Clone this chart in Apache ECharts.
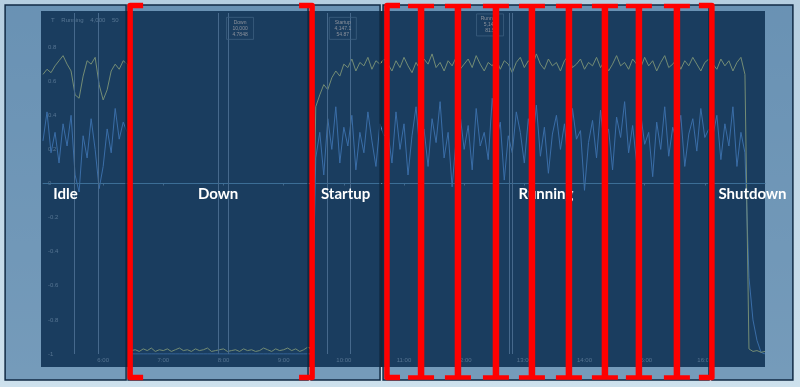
<!DOCTYPE html>
<html><head><meta charset="utf-8">
<script src="https://cdn.jsdelivr.net/npm/echarts@6/dist/echarts.min.js"></script>
<style>html,body{margin:0;padding:0;background:#bcd4e5}#c{width:800px;height:387px}</style>
</head><body><div id="c"></div><script>
// ---- sampling (minutes since midnight) ----
const sampleStart = 300, sampleStep = 4;

// ---- upper (yellow) signal by phase ----
const idleSpeed = [0.64,0.67,0.65,0.69,0.72,0.75,0.70,0.66,0.52,0.50,0.63,0.72,0.70,0.74,0.58,0.49,0.55,0.66,0.70,0.67,0.72,0.70];
const downSpeed = [-0.98,-0.975,-0.985,-0.97,-0.98,-0.965,-0.985,-0.975,-0.98,-0.97,
  -0.985,-0.975,-0.965,-0.98,-0.975,-0.985,-0.97,-0.98,-0.975,-0.965,
  -0.985,-0.98,-0.975,-0.97,-0.985,-0.98,-0.975,-0.985,-0.97,-0.98,
  -0.975,-0.985,-0.98,-0.965,-0.975,-0.985,-0.97,-0.98,-0.975,-0.965,
  -0.98,-0.97,-0.985,-0.975,-0.96];
const startupSpeed = [-0.97,0.45,0.52,0.58,0.55,0.62,0.66,0.63,0.70,0.68,0.73,0.66,0.71,0.69,0.74,0.67,0.72,0.70,0.73];
const runningSpeed = [0.70,0.66,0.72,0.68,0.74,0.69,0.65,0.71,0.67,0.73,
  0.70,0.76,0.68,0.71,0.66,0.72,0.69,0.74,0.67,0.70,
  0.73,0.68,0.75,0.70,0.66,0.71,0.69,0.73,0.67,0.72,
  0.70,0.65,0.71,0.74,0.68,0.72,0.69,0.76,0.70,0.67,
  0.73,0.69,0.71,0.66,0.72,0.75,0.68,0.70,0.73,0.67,
  0.71,0.69,0.74,0.68,0.72,0.66,0.70,0.75,0.69,0.71,
  0.67,0.73,0.70,0.68,0.74,0.69,0.72,0.66,0.71,0.75,
  0.68,0.70,0.73,0.67,0.72,0.69,0.74,0.70,0.66,0.71,
  0.73];
const shutdownSpeed = [0.70,0.67,0.73,0.69,0.72,0.66,0.71,0.74,0.64,-0.97,-0.985,-0.98,-0.99,-0.985];

// ---- lower (blue) signal by phase ----
const idleLoad = [0.25,0.42,0.18,0.30,0.12,0.35,0.22,0.40,0.05,-0.05,0.28,0.15,0.38,0.20,-0.03,0.10,0.32,0.18,0.44,0.26,0.36,0.30];
const downLoad = [-1,-1,-1,-1,-1,-1,-1,-1,-1,-1,-1,-1,-1,-1,-1,-1,-1,-1,-1,-1,-1,-1,-1,-1,-1,
  -1,-1,-1,-1,-1,-1,-1,-1,-1,-1,-1,-1,-1,-1,-1,-1,-1,-1,-1,-1];
const startupLoad = [-1,0.15,0.30,0.05,0.38,0.20,0.45,0.12,0.33,0.22,0.40,0.08,0.30,0.18,0.42,0.25,0.10,0.35,0.28];
const runningLoad = [0.30,0.12,0.42,0.20,0.35,0.05,0.28,0.45,0.18,0.32,
  0.10,0.38,0.24,0.48,0.15,0.30,-0.02,0.26,0.40,0.20,
  0.34,0.08,0.44,0.22,0.30,0.14,0.50,0.25,0.36,0.02,
  0.28,0.18,0.42,0.30,0.12,0.38,0.22,0.46,0.16,0.33,
  0.06,0.29,0.40,0.20,0.35,0.10,0.44,0.26,0.31,-0.04,
  0.24,0.37,0.15,0.43,0.21,0.32,0.08,0.39,0.27,0.48,
  0.18,0.34,0.12,0.41,0.23,0.30,0.04,0.36,0.20,0.45,
  0.16,0.33,0.25,0.40,0.10,0.29,0.38,0.19,0.44,0.27,
  0.32];
const shutdownLoad = [0.28,0.40,0.14,0.35,0.22,0.45,0.10,0.30,0.18,-0.55,-0.80,-0.92,-0.99,-1];

// ---- phases (overlay boxes) ----
const phaseNames = ['Idle','Down','Startup','Running','Shutdown'];
const phaseStart = [262.1, 384.8, 567.3, 639.1, 967.2];
const phaseEnd   = [382.8, 564.3, 636.1, 964.2, 1047.9];

// ---- red brackets (0 = open, 1 = divider, 2 = close) ----
const bracketTimes = [386.8, 568.3, 643.0, 677.0, 713.8, 751.7, 787.6, 824.5, 860.4, 894.3, 932.2, 967.1];
const bracketKinds = [0, 2, 0, 1, 1, 1, 1, 1, 1, 1, 1, 2];

// ---- cursor lines and info boxes ----
const cursorTimes = [330.9, 354.8, 474.5, 484.5, 583.2, 606.1, 764.7, 767.7];
const infoTimes = [496.5, 599, 745.8];
const infoValues = [0.91, 0.91, 0.93];
const infoTexts = ['Down\n10,000\n4.7848', 'Startup\n4,147.1\n54.87', 'Running\n5,142\n81.5'];

// ---- axis ----
const xMin = 300, xMax = 1020, xInterval = 60;
const yMin = -1, yMax = 1, yInterval = 0.2;

const speed = [].concat(idleSpeed, downSpeed, startupSpeed, runningSpeed, shutdownSpeed);
const load = [].concat(idleLoad, downLoad, startupLoad, runningLoad, shutdownLoad);
const speedData = speed.map((v, i) => [sampleStart + i * sampleStep, v]);
const loadData = load.map((v, i) => [sampleStart + i * sampleStep, v]);

const faint = '#8c929c';
const chart = echarts.init(document.getElementById('c'), null, {renderer: 'canvas'});

chart.setOption({
  animation: false,
  backgroundColor: {type: 'linear', x: 0, y: 0, x2: 0, y2: 1,
    colorStops: [{offset: 0, color: '#b5cee0'}, {offset: 1, color: '#cde1ed'}]},
  title: {text: 'T    Running    4,000    50', left: 46, top: 12, z: 1,
    textStyle: {fontSize: 6, fontWeight: 'normal', color: faint, fontFamily: 'Liberation Sans'}},
  grid: [
    {left: 43, right: 35, top: 13, bottom: 33},
    {left: 5, right: 7, top: 5, bottom: 7},
    {left: 41, right: 35, top: 11, bottom: 20, show: true, backgroundColor: '#172536', borderWidth: 0, z: 0}
  ],
  xAxis: [
    {type: 'value', gridIndex: 0, min: xMin, max: xMax, interval: xInterval,
      axisLine: {show: true, lineStyle: {color: '#6a7888', width: 1}},
      axisTick: {show: true, length: 2, lineStyle: {color: '#6a7888'}},
      splitLine: {show: false},
      axisLabel: {fontSize: 6, margin: 3, color: faint, fontFamily: 'Liberation Sans',
        showMinLabel: false, showMaxLabel: false,
        formatter: v => (v / 60) + ':00'}},
    {type: 'value', gridIndex: 1, min: 262, max: 1048, show: false},
    {type: 'value', gridIndex: 2, min: 0, max: 1, show: false}
  ],
  yAxis: [
    {type: 'value', gridIndex: 0, min: yMin, max: yMax, interval: yInterval,
      axisLine: {show: false}, axisTick: {show: false}, splitLine: {show: false},
      axisLabel: {inside: true, fontSize: 6, margin: 5, color: faint, fontFamily: 'Liberation Sans',
        showMaxLabel: false,
        formatter: v => (Math.abs(v) < 1e-9 ? '0' : (Math.round(v * 10) / 10).toString())}},
    {type: 'value', gridIndex: 1, min: 0, max: 1, show: false},
    {type: 'value', gridIndex: 2, min: 0, max: 1, show: false}
  ],
  series: [
    {type: 'line', name: 'load', xAxisIndex: 0, yAxisIndex: 0, data: loadData, z: 2,
      showSymbol: false, lineStyle: {color: '#5685c8', width: 1},
      markLine: {silent: true, symbol: 'none', label: {show: false},
        data: [{yAxis: 0, lineStyle: {color: '#5a87a5', width: 1, type: 'solid'}}]
          .concat(cursorTimes.map(t => ({xAxis: t, lineStyle: {color: '#6e7d91', width: 1, type: 'solid'}})))}},
    {type: 'line', name: 'speed', xAxisIndex: 0, yAxisIndex: 0, data: speedData, z: 3,
      showSymbol: false, lineStyle: {color: '#c9c262', width: 1},
      markPoint: {silent: true, symbol: 'rect', symbolSize: [27, 22],
        itemStyle: {color: 'rgba(0,0,0,0)', borderColor: '#5a6878', borderWidth: 0.8},
        label: {show: true, position: 'inside', fontSize: 5, lineHeight: 6, color: faint,
          fontFamily: 'Liberation Sans', formatter: p => p.name},
        data: infoTimes.map((t, i) => ({name: infoTexts[i], coord: [t, infoValues[i]]}))}},
    {type: 'custom', name: 'phases', xAxisIndex: 1, yAxisIndex: 1, z: 5, clip: false, silent: true,
      data: phaseNames.map((n, i) => [phaseStart[i], phaseEnd[i], i]),
      renderItem: function (params, api) {
        const cs = params.coordSys;
        const x0 = api.coord([api.value(0), 0])[0];
        const x1 = api.coord([api.value(1), 0])[0];
        return {
          type: 'rect',
          shape: {x: x0, y: cs.y, width: x1 - x0, height: cs.height},
          style: {fill: 'rgba(30,85,135,0.5)', stroke: '#102a44', lineWidth: 1.5},
          textContent: {style: {text: phaseNames[api.value(2)], fill: '#ffffff',
            font: 'bold 15px Lato'}},
          textConfig: {position: 'inside', offset: [0, 2]}
        };
      }},
    {type: 'custom', name: 'brackets', xAxisIndex: 1, yAxisIndex: 1, z: 6, clip: false, silent: true,
      data: bracketTimes.map((t, i) => [t, bracketKinds[i]]),
      renderItem: function (params, api) {
        const cs = params.coordSys;
        const x = api.coord([api.value(0), 0])[0];
        const kind = api.value(1);
        const top = cs.y + 0.5, bot = cs.y + cs.height - 2.5, s = 13;
        const st = {stroke: '#ff0000', fill: null, lineWidth: 5.5, lineJoin: 'round'};
        let children;
        if (kind === 0) {
          children = [{type: 'polyline', shape: {points: [[x + s, top], [x, top], [x, bot], [x + s, bot]]}, style: st}];
        } else if (kind === 2) {
          children = [{type: 'polyline', shape: {points: [[x - s, top], [x, top], [x, bot], [x - s, bot]]}, style: st}];
        } else {
          const sv = {stroke: '#ff0000', fill: null, lineWidth: 6.5};
          const sh = {stroke: '#ff0000', fill: null, lineWidth: 4.5};
          children = [
            {type: 'line', shape: {x1: x, y1: top, x2: x, y2: bot}, style: sv},
            {type: 'line', shape: {x1: x - s, y1: top + 0.5, x2: x + s, y2: top + 0.5}, style: sh},
            {type: 'line', shape: {x1: x - s, y1: bot, x2: x + s, y2: bot}, style: sh}
          ];
        }
        return {type: 'group', children: children};
      }}
  ]
});
</script></body></html>
